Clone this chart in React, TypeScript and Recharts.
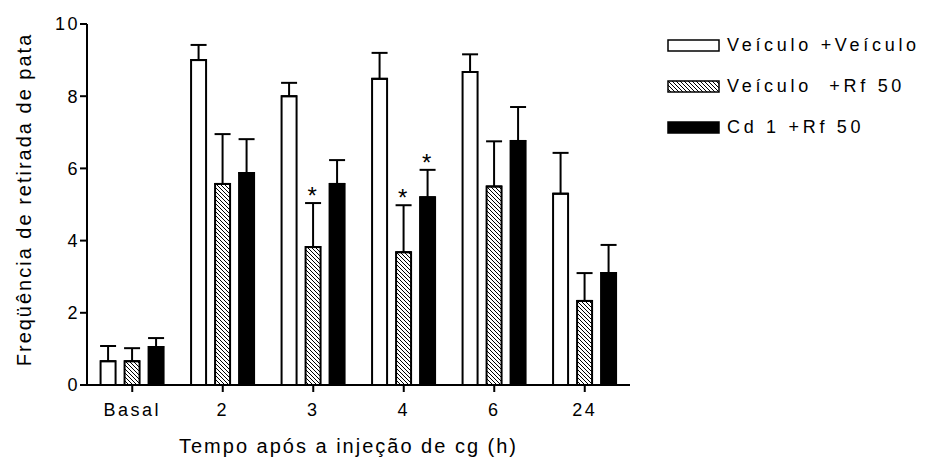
import React from "react";
import { ComposedChart, Bar, XAxis, YAxis, ErrorBar, LabelList, Label } from "recharts";

const categories = ["Basal", "2", "3", "4", "6", "24"];
const veiculoVeiculo = [0.66, 9.0, 8.0, 8.48, 8.67, 5.3];
const veiculoVeiculoErr = [0.42, 0.42, 0.37, 0.72, 0.49, 1.13];
const veiculoRf = [0.66, 5.57, 3.82, 3.68, 5.5, 2.33];
const veiculoRfErr = [0.36, 1.38, 1.22, 1.3, 1.25, 0.77];
const cdRf = [1.05, 5.87, 5.57, 5.2, 6.76, 3.1];
const cdRfErr = [0.25, 0.94, 0.66, 0.76, 0.94, 0.78];
const veiculoRfStar = [false, false, true, true, false, false];
const cdRfStar = [false, false, false, true, false, false];
const yTicks = [0, 2, 4, 6, 8, 10];

const legendItems = [
  { label: "Veículo +Veículo", fill: "#fff" },
  { label: "Veículo  +Rf 50", fill: "url(#hatchLegend)" },
  { label: "Cd 1 +Rf 50", fill: "#000" },
];

const data = categories.map((name, i) => ({
  name,
  vv: veiculoVeiculo[i],
  vvErr: [0, veiculoVeiculoErr[i]],
  vr: veiculoRf[i],
  vrErr: [0, veiculoRfErr[i]],
  cr: cdRf[i],
  crErr: [0, cdRfErr[i]],
}));

const font = "'Liberation Sans', Arial, sans-serif";

function starLabel(stars: boolean[], errs: number[]) {
  return (props: any) => {
    const { x, y, width, height, value, index } = props;
    if (!stars[index] || !value) return null;
    const perUnit = height / value;
    const top = y - errs[index] * perUnit;
    return (
      <text x={x + width / 2 - 1} y={top + 1} textAnchor="middle" fontSize={24} fontFamily={font} fill="#000">
        *
      </text>
    );
  };
}

function HatchPattern({ id }: { id: string }) {
  return (
    <pattern id={id} patternUnits="userSpaceOnUse" width={4} height={4}>
      <rect width={4} height={4} fill="#fff" />
      <path d="M-1,-1 L5,5 M-1,3 L1,5 M3,-1 L5,1" stroke="#000" strokeWidth={1} />
    </pattern>
  );
}

export default function App() {
  const tick = { fontSize: 18, fill: "#000", fontFamily: font, letterSpacing: 2.5 };
  return (
    <div style={{ position: "absolute", left: 0, top: 0, width: 927, height: 461, background: "#fff" }}>
      <ComposedChart
        width={927}
        height={461}
        data={data}
        margin={{ top: 24, right: 297, left: 27, bottom: 6 }}
        barCategoryGap="15%"
        barGap={9}
      >
        <defs>
          <HatchPattern id="hatch" />
        </defs>
        <XAxis
          dataKey="name"
          height={70}
          tickSize={7}
          tickMargin={11}
          tick={tick}
          axisLine={{ stroke: "#000", strokeWidth: 2 }}
          tickLine={{ stroke: "#000", strokeWidth: 2 }}
        >
          <Label
            content={(props: any) => {
              const vb = props.viewBox;
              return (
                <text
                  x={vb.x + vb.width / 2 - 10}
                  y={vb.y + 68}
                  textAnchor="middle"
                  fontSize={20}
                  fontFamily={font}
                  letterSpacing={2}
                  fill="#000"
                >
                  Tempo após a injeção de cg (h)
                </text>
              );
            }}
          />
        </XAxis>
        <YAxis
          width={60}
          domain={[0, 10]}
          ticks={yTicks}
          tickSize={7}
          tickMargin={0}
          tick={tick}
          axisLine={{ stroke: "#000", strokeWidth: 2 }}
          tickLine={{ stroke: "#000", strokeWidth: 2 }}
        >
          <Label
            content={(props: any) => {
              const vb = props.viewBox;
              const cx = vb.x - 3;
              const cy = vb.y + vb.height / 2 - 5;
              return (
                <text
                  x={cx}
                  y={cy}
                  transform={`rotate(-90, ${cx}, ${cy})`}
                  textAnchor="middle"
                  dominantBaseline="central"
                  fontSize={20}
                  fontFamily={font}
                  letterSpacing={2}
                  fill="#000"
                >
                  Freqüência de retirada de pata
                </text>
              );
            }}
          />
        </YAxis>
        <Bar dataKey="vv" fill="#fff" stroke="#000" strokeWidth={2} isAnimationActive={false}>
          <ErrorBar dataKey="vvErr" direction="y" width={8} stroke="#000" strokeWidth={2} />
        </Bar>
        <Bar dataKey="vr" fill="url(#hatch)" stroke="#000" strokeWidth={2} isAnimationActive={false}>
          <ErrorBar dataKey="vrErr" direction="y" width={8} stroke="#000" strokeWidth={2} />
          <LabelList dataKey="vr" content={starLabel(veiculoRfStar, veiculoRfErr)} />
        </Bar>
        <Bar dataKey="cr" fill="#000" stroke="#000" strokeWidth={2} isAnimationActive={false}>
          <ErrorBar dataKey="crErr" direction="y" width={8} stroke="#000" strokeWidth={2} />
          <LabelList dataKey="cr" content={starLabel(cdRfStar, cdRfErr)} />
        </Bar>
      </ComposedChart>
      <div style={{ position: "absolute", left: 667, top: 24.5, fontFamily: font }}>
        {legendItems.map((item) => (
          <div key={item.label} style={{ display: "flex", alignItems: "center", height: 41 }}>
            <svg width={53} height={13} style={{ display: "block" }}>
              <defs>
                <HatchPattern id="hatchLegend" />
              </defs>
              <rect x={1} y={1} width={51} height={11} fill={item.fill} stroke="#000" strokeWidth={1.5} />
            </svg>
            <span style={{ marginLeft: 7, fontSize: 18, letterSpacing: 3.7, whiteSpace: "pre", color: "#000" }}>
              {item.label}
            </span>
          </div>
        ))}
      </div>
    </div>
  );
}
